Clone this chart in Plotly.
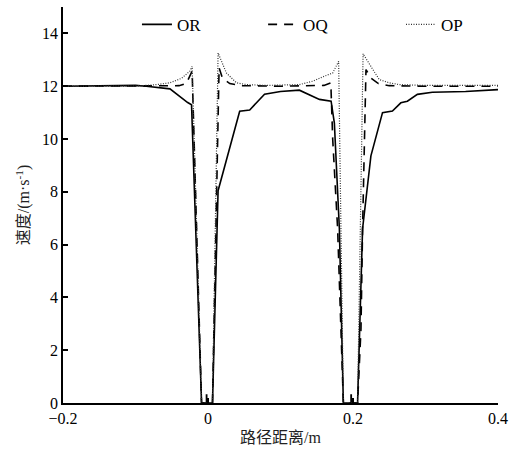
import plotly.graph_objects as go

# Path distance (m) and velocity (m/s) along the three paths
or_x = [-0.2, -0.15, -0.1, -0.085, -0.0525, -0.028, -0.0227, -0.0089,
        -0.0021, -0.0021, -0.0018, -0.0018, 0.0062, 0.0139, 0.0437, 0.0575,
        0.078, 0.1, 0.126, 0.1537, 0.1698, 0.1743, 0.1812, 0.1867,
        0.1973, 0.1973, 0.1976, 0.1976, 0.2063, 0.2132, 0.2247, 0.2407,
        0.2544, 0.266, 0.275, 0.2888, 0.3094, 0.3553, 0.4]
or_y = [12.0, 12.02, 12.03, 12.0, 11.9, 11.38, 11.3, 0.0,
        0.0, 0.3, 0.3, 0.0, 0.0, 8.04, 11.05, 11.1,
        11.7, 11.8, 11.85, 11.5, 11.43, 10.6, 6.6, 0.0,
        0.0, 0.3, 0.3, 0.0, 0.0, 6.6, 9.36, 11.0,
        11.06, 11.37, 11.43, 11.69, 11.77, 11.8, 11.87]

oq_x = [-0.2, -0.1, -0.04, -0.03, -0.0219, -0.0089, 0.0062, 0.0153,
        0.02, 0.03, 0.045, 0.1, 0.16, 0.1694, 0.1698, 0.172, 0.1788,
        0.1835, 0.1867, 0.2063, 0.211, 0.2132, 0.2155, 0.2179, 0.225,
        0.235, 0.25, 0.3, 0.4]
oq_y = [12.0, 12.0, 12.02, 12.1, 12.57, 0.0, 0.0, 12.7,
        12.3, 12.1, 12.02, 12.0, 12.03, 12.13, 11.62, 10.0, 6.6,
        2.8, 0.0, 0.0, 2.8, 6.6, 9.1, 12.63, 12.3,
        12.1, 12.02, 12.0, 12.0]

op_x = [-0.2, -0.1, -0.0708, -0.0525, -0.0364, -0.025, -0.0219, -0.0089,
        0.0062, 0.0139, 0.0254, 0.0392, 0.0529, 0.08, 0.126, 0.1445,
        0.1606, 0.172, 0.1802, 0.1867, 0.2063, 0.2139, 0.2247, 0.2362,
        0.2499, 0.2636, 0.3, 0.4]
op_y = [12.0, 12.0, 12.06, 12.13, 12.3, 12.57, 12.75, 0.0,
        0.0, 13.26, 12.5, 12.13, 12.06, 12.03, 12.06, 12.19,
        12.38, 12.5, 12.94, 0.0, 0.0, 13.23, 12.75, 12.25,
        12.13, 12.06, 12.03, 12.03]

x_ticks = [-0.2, 0, 0.2, 0.4]
x_tick_text = ["\u22120.2", "0", "0.2", "0.4"]
y_ticks = [0, 2, 4, 6, 8, 10, 12, 14]

serif = "Liberation Serif"
mixed = "Liberation Serif, Noto Sans CJK SC"

fig = go.Figure()
fig.add_trace(go.Scatter(x=or_x, y=or_y, mode="lines", name="OR",
                         line=dict(color="#000000", width=1.6),
                         legend="legend"))
fig.add_trace(go.Scatter(x=oq_x, y=oq_y, mode="lines", name="OQ",
                         line=dict(color="#000000", width=1.6, dash="9px,7px"),
                         legend="legend2"))
fig.add_trace(go.Scatter(x=op_x, y=op_y, mode="lines", name="OP",
                         line=dict(color="#333333", width=1.2, dash="1px,1.5px"),
                         legend="legend3"))

leg_common = dict(orientation="h", yanchor="middle", xanchor="left",
                  bgcolor="rgba(0,0,0,0)", borderwidth=0,
                  font=dict(family=serif, size=17, color="#000000"))

fig.update_layout(
    width=515, height=451,
    margin=dict(l=63, r=17, t=7, b=46),
    paper_bgcolor="white", plot_bgcolor="white",
    showlegend=True,
    legend=dict(x=0.17, y=0.955, **leg_common),
    legend2=dict(x=0.46, y=0.955, **leg_common),
    legend3=dict(x=0.777, y=0.955, **leg_common),
    xaxis=dict(range=[-0.2, 0.4], tickvals=x_ticks, ticktext=x_tick_text,
               ticks="inside", ticklen=5, tickwidth=1.5, tickcolor="#000000",
               showline=True, linecolor="#000000", linewidth=1.5,
               showgrid=False, zeroline=False,
               tickfont=dict(family=serif, size=16, color="#000000"),
               title=dict(text="路径距离/m", standoff=6,
                          font=dict(family=mixed, size=16, color="#222222"))),
    yaxis=dict(range=[0, 15], tickvals=y_ticks,
               ticks="inside", ticklen=5, tickwidth=1.5, tickcolor="#000000",
               showline=True, linecolor="#000000", linewidth=1.5,
               showgrid=False, zeroline=False,
               tickfont=dict(family=serif, size=16, color="#000000"),
               title=dict(text="速度/(m·s<sup>-1</sup>)", standoff=8,
                          font=dict(family=mixed, size=16, color="#222222"))),
)

fig.write_html("out.html")
